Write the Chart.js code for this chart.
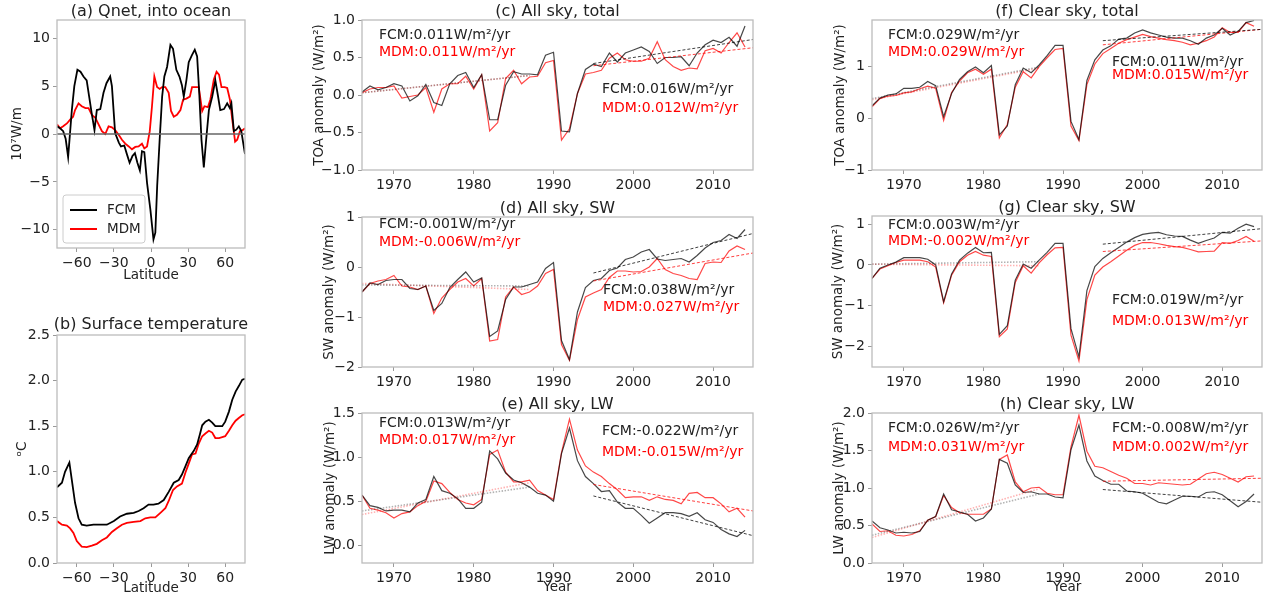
<!DOCTYPE html>
<html><head><meta charset="utf-8">
<script src="https://cdn.jsdelivr.net/npm/chart.js@4.4.0/dist/chart.umd.min.js"></script>
<style>
body{margin:0;background:#fff;width:1271px;height:600px;position:relative;overflow:hidden}
canvas{position:absolute}
</style></head><body>
<canvas id="pa" width="260" height="290" style="left:0;top:0"></canvas>
<canvas id="pb" width="260" height="305" style="left:0;top:295px"></canvas>
<canvas id="pc" width="470" height="195" style="left:295px;top:0"></canvas>
<canvas id="pd" width="470" height="195" style="left:295px;top:195px"></canvas>
<canvas id="pe" width="470" height="210" style="left:295px;top:390px"></canvas>
<canvas id="pf" width="471" height="195" style="left:800px;top:0"></canvas>
<canvas id="pg" width="471" height="195" style="left:800px;top:195px"></canvas>
<canvas id="ph" width="471" height="210" style="left:800px;top:390px"></canvas>
<script>
// ---------------- DATA ----------------
const years = [1966,1967,1968,1969,1970,1971,1972,1973,1974,1975,
  1976,1977,1978,1979,1980,1981,1982,1983,1984,1985,
  1986,1987,1988,1989,1990,1991,1992,1993,1994,1995,
  1996,1997,1998,1999,2000,2001,2002,2003,2004,2005,
  2006,2007,2008,2009,2010,2011,2012,2013,2014];
const yearTicks = [1970,1980,1990,2000,2010];
const latTicks = [-60,-30,0,30,60];
const latTickLabels = ['\u221260','\u221230','0','30','60'];
const earlyYears = [1966,1987];
const lateYears = [1995,2015];

// (a) Qnet into ocean
const aLatFCM = [-76,-73.5,-71,-69,-67,-64,-62,-59.5,-57,-54.6,-52,-50,-48,-45.7,-43.8,-41,-38.4,-36,-33,-31.6,-29,-26,-24.3,-21.6,-19.5,-17.3,-15,-13,-11,-9,-7.3,-5.4,-3.2,-0.5,2,3.5,5,7,9,10.8,13,15.7,17.8,20.5,23,25,26.5,28.6,30.5,33,35.4,37.3,39,40.8,42.7,44.6,46.8,49.5,52,54,56,59,61.6,63.8,65,67,69,71,73,76];
const aFCM = [0.8,0.6,0.3,-0.5,-2.4,2.5,5.0,6.7,6.5,6.0,5.6,3.9,2.2,0.4,2.5,2.6,4.3,5.3,6.0,5.0,0.1,-0.9,-1.3,-1.2,-2.1,-3.0,-2.3,-2.0,-3.0,-3.8,-1.8,-1.9,-5.1,-7.9,-11.0,-10.3,-5.4,-0.6,3.9,6.0,7.0,9.3,8.9,6.7,6.0,5.1,3.9,5.6,7.5,8.2,8.8,8.1,4.3,-0.6,-3.5,-0.6,2.5,3.9,5.6,4.1,2.5,2.6,3.2,2.7,3.2,0.3,0.45,0.8,0.3,-2.1];
const aLatMDM = [-76,-73.5,-71,-68,-65.4,-63,-61.4,-58.6,-56,-53,-50.5,-47.8,-45,-42.4,-39.7,-37,-34.3,-31.6,-29,-26,-23.5,-20.8,-18,-15.4,-12.7,-10,-7.3,-5.4,-3.2,-1,0.8,2.7,4.9,7,9,11.6,14.3,16.2,18.4,21,23.8,26,28.6,31.4,33.2,36,38.6,41.4,43.2,46,48,50.8,53,55,57,59.5,61.6,63.8,65.7,68,69.7,71.9,74,76];
const aMDM = [1.0,0.6,0.8,1.1,1.5,1.8,2.5,3.2,2.9,2.7,2.7,2.0,1.7,1.0,0.3,0.0,0.8,0.7,0.4,-0.1,-0.6,-1.0,-1.3,-1.6,-1.35,-1.3,-1.0,-1.5,-1.3,0.3,2.9,6.0,4.9,4.7,4.9,4.9,4.3,2.4,1.8,2.0,2.5,3.6,3.7,3.9,4.9,4.9,4.9,2.4,2.9,2.8,3.6,5.7,6.5,6.2,4.9,4.9,4.8,3.6,1.5,-0.8,-0.6,0.3,0.4,0.6];
const aTicks = [-10,-5,0,5,10];
const aTickLabels = ['\u221210','\u22125','0','5','10'];

// (b) Surface temperature
const bLatFCM = [-76,-72,-69.5,-66,-64,-61.4,-58.6,-56,-52,-46.5,-41,-35.7,-30,-25,-19.5,-14,-10,-6,-2,2,6,10.3,14.3,18.4,22.4,25,27.8,30.5,34.6,37.3,39.5,41.4,44,46.8,49.5,52,55,57.6,60,63,65.7,68.4,71,73.8,76];
const bFCM = [0.83,0.88,1.00,1.10,0.91,0.66,0.49,0.42,0.41,0.42,0.42,0.42,0.46,0.51,0.54,0.55,0.57,0.60,0.64,0.64,0.65,0.69,0.78,0.88,0.91,0.97,1.06,1.15,1.23,1.30,1.41,1.51,1.55,1.57,1.54,1.50,1.50,1.50,1.55,1.66,1.79,1.88,1.94,2.01,2.02];
const bLatMDM = [-76,-72,-68,-65.4,-62.7,-60,-56,-52,-47.8,-43.8,-39.7,-35.7,-31.6,-27.6,-23.5,-19.5,-14,-8.6,-4.6,-0.5,3.5,7.6,11.6,14.3,17.8,21,25,27.8,30.5,33.2,36,38.6,41.4,44,46.8,49.5,52,55,57.6,60,63,65.7,68.4,71,73.8,76];
const bMDM = [0.46,0.42,0.41,0.38,0.33,0.24,0.18,0.175,0.19,0.21,0.25,0.28,0.34,0.38,0.42,0.44,0.45,0.46,0.49,0.50,0.50,0.55,0.60,0.68,0.80,0.84,0.87,0.99,1.09,1.19,1.20,1.31,1.39,1.42,1.45,1.43,1.37,1.37,1.38,1.39,1.45,1.51,1.56,1.59,1.62,1.63];
const bTicks = [0,0.5,1,1.5,2,2.5];
const bTickLabels = ['0.0','0.5','1.0','1.5','2.0','2.5'];

// (c) All sky, total
const cFCM = [0.04,0.12,0.07,0.10,0.15,0.12,-0.08,-0.01,0.14,-0.10,
  -0.14,0.15,0.26,0.30,0.10,0.27,-0.33,-0.33,0.13,0.31,
  0.28,0.28,0.27,0.53,0.57,-0.48,-0.49,0.02,0.34,0.41,
  0.38,0.56,0.44,0.56,0.60,0.64,0.58,0.42,0.50,0.50,
  0.51,0.39,0.56,0.67,0.73,0.70,0.77,0.65,0.92];
const cMDM = [0.03,0.08,0.10,0.10,0.12,-0.04,-0.02,0.00,0.10,-0.23,
  0.08,0.15,0.15,0.25,0.08,0.27,-0.48,-0.37,0.22,0.33,
  0.15,0.24,0.25,0.43,0.46,-0.60,-0.45,0.02,0.28,0.30,
  0.33,0.49,0.56,0.47,0.45,0.45,0.49,0.71,0.47,0.38,
  0.33,0.36,0.35,0.59,0.62,0.56,0.70,0.83,0.64];
const cTrendEarlyFCM = [0.03,0.26], cTrendEarlyMDM = [0.03,0.26];
const cTrendLateFCM = [0.42,0.74], cTrendLateMDM = [0.39,0.63];
const cTicks = [-1,-0.5,0,0.5,1];
const cTickLabels = ['\u22121.0','\u22120.5','0.0','0.5','1.0'];

// (d) All sky, SW
const dFCM = [-0.50,-0.32,-0.35,-0.27,-0.25,-0.25,-0.43,-0.45,-0.38,-0.87,
  -0.73,-0.41,-0.25,-0.10,-0.30,-0.22,-1.39,-1.28,-0.65,-0.40,
  -0.40,-0.35,-0.30,-0.03,0.09,-1.47,-1.85,-0.90,-0.41,-0.27,
  -0.23,-0.07,-0.02,0.15,0.20,0.30,0.35,0.16,0.13,0.15,
  0.17,0.10,0.23,0.38,0.49,0.53,0.65,0.57,0.75];
const dMDM = [-0.50,-0.33,-0.28,-0.25,-0.17,-0.38,-0.40,-0.45,-0.38,-0.93,
  -0.62,-0.45,-0.30,-0.23,-0.38,-0.23,-1.48,-1.45,-0.60,-0.40,
  -0.55,-0.50,-0.38,-0.13,-0.05,-1.55,-1.87,-1.05,-0.60,-0.52,
  -0.45,-0.21,-0.08,-0.08,-0.10,-0.09,0.00,0.17,-0.05,-0.13,
  -0.17,-0.23,-0.25,0.07,0.10,0.09,0.32,0.42,0.35];
const dTrendEarlyFCM = [-0.36,-0.38], dTrendEarlyMDM = [-0.33,-0.45];
const dTrendLateFCM = [-0.12,0.67], dTrendLateMDM = [-0.28,0.28];
const dTicks = [-2,-1,0,1];
const dTickLabels = ['\u22122','\u22121','0','1'];

// (e) All sky, LW
const eFCM = [0.57,0.45,0.43,0.39,0.40,0.40,0.38,0.48,0.52,0.78,
  0.62,0.59,0.53,0.42,0.42,0.49,1.07,0.98,0.82,0.74,
  0.71,0.66,0.59,0.57,0.50,1.04,1.33,0.96,0.78,0.70,
  0.61,0.62,0.49,0.42,0.42,0.34,0.25,0.31,0.37,0.37,
  0.36,0.33,0.37,0.29,0.26,0.18,0.13,0.10,0.17];
const eMDM = [0.57,0.42,0.40,0.37,0.31,0.36,0.38,0.45,0.50,0.73,
  0.70,0.60,0.52,0.48,0.46,0.52,1.03,1.08,0.83,0.72,
  0.72,0.74,0.62,0.57,0.52,1.05,1.43,1.08,0.90,0.83,
  0.78,0.70,0.63,0.54,0.55,0.55,0.51,0.55,0.52,0.51,
  0.47,0.59,0.60,0.54,0.54,0.47,0.38,0.42,0.32];
const eTrendEarlyFCM = [0.39,0.66], eTrendEarlyMDM = [0.35,0.71];
const eTrendLateFCM = [0.56,0.11], eTrendLateMDM = [0.69,0.39];
const eTicks = [0,0.5,1,1.5];
const eTickLabels = ['0.0','0.5','1.0','1.5'];

// (f) Clear sky, total
const fFCM = [0.24,0.39,0.45,0.47,0.58,0.58,0.60,0.71,0.63,0.03,
  0.48,0.75,0.90,0.99,0.88,1.02,-0.32,-0.15,0.65,0.97,
  0.88,1.03,1.21,1.41,1.41,-0.06,-0.41,0.73,1.13,1.32,
  1.40,1.53,1.55,1.65,1.71,1.65,1.61,1.57,1.55,1.55,
  1.50,1.43,1.55,1.61,1.74,1.61,1.68,1.85,1.89];
const fMDM = [0.22,0.38,0.43,0.44,0.49,0.51,0.57,0.62,0.58,-0.04,
  0.50,0.72,0.88,0.95,0.85,0.95,-0.38,-0.12,0.60,0.90,
  0.78,1.00,1.17,1.33,1.35,-0.15,-0.43,0.65,1.05,1.25,
  1.35,1.45,1.52,1.57,1.62,1.58,1.55,1.52,1.50,1.47,
  1.42,1.45,1.50,1.57,1.75,1.66,1.66,1.85,1.78];
const fTrendEarlyFCM = [0.38,0.99], fTrendEarlyMDM = [0.36,0.97];
const fTrendLateFCM = [1.50,1.72], fTrendLateMDM = [1.42,1.72];
const fTicks = [-1,0,1];
const fTickLabels = ['\u22121','0','1'];

// (g) Clear sky, SW
const gFCM = [-0.33,-0.08,0.00,0.07,0.18,0.18,0.18,0.14,0.00,-0.90,
  -0.22,0.12,0.29,0.43,0.30,0.31,-1.70,-1.49,-0.37,0.02,
  -0.08,0.12,0.31,0.53,0.53,-1.56,-2.25,-0.63,-0.04,0.16,
  0.30,0.43,0.56,0.67,0.75,0.78,0.80,0.74,0.71,0.70,
  0.61,0.53,0.60,0.66,0.80,0.78,0.90,1.00,0.94];
const gMDM = [-0.33,-0.10,-0.02,0.06,0.12,0.12,0.12,0.08,-0.05,-0.93,
  -0.25,0.08,0.24,0.33,0.24,0.21,-1.76,-1.57,-0.43,-0.02,
  -0.20,0.05,0.25,0.42,0.43,-1.72,-2.35,-0.85,-0.25,-0.05,
  0.08,0.22,0.36,0.48,0.55,0.55,0.52,0.48,0.45,0.43,
  0.38,0.32,0.33,0.34,0.55,0.53,0.60,0.70,0.58];
const gTrendEarlyFCM = [0.02,0.08], gTrendEarlyMDM = [0.02,-0.02];
const gTrendLateFCM = [0.51,0.89], gTrendLateMDM = [0.33,0.59];
const gTicks = [-2,-1,0,1];
const gTickLabels = ['\u22122','\u22121','0','1'];

// (h) Clear sky, LW
const hFCM = [0.56,0.47,0.44,0.40,0.41,0.40,0.42,0.57,0.62,0.92,
  0.71,0.68,0.65,0.56,0.60,0.72,1.38,1.33,1.04,0.94,
  0.95,0.92,0.92,0.88,0.87,1.51,1.84,1.36,1.16,1.10,
  1.05,1.05,0.96,0.95,0.93,0.87,0.81,0.79,0.84,0.89,
  0.89,0.88,0.94,0.95,0.91,0.83,0.75,0.82,0.92];
const hMDM = [0.52,0.42,0.43,0.37,0.36,0.38,0.43,0.57,0.62,0.90,
  0.74,0.67,0.65,0.65,0.65,0.72,1.38,1.44,1.08,0.95,
  1.00,1.01,0.93,0.91,0.91,1.55,1.97,1.49,1.29,1.27,
  1.22,1.17,1.13,1.06,1.06,1.04,1.07,1.06,1.05,1.04,
  1.05,1.12,1.19,1.21,1.18,1.13,1.08,1.15,1.16];
const hTrendEarlyFCM = [0.37,0.92], hTrendEarlyMDM = [0.34,0.99];
const hTrendLateFCM = [0.98,0.81], hTrendLateMDM = [1.09,1.13];
const hTicks = [0,0.5,1,1.5,2];
const hTickLabels = ['0.0','0.5','1.0','1.5','2.0'];

// ---------------- RENDERING ----------------
const FONT = 'DejaVu Sans';
const TXT = '#222';
Chart.defaults.font.family = FONT;
Chart.defaults.color = TXT;

const deco = {
  id: 'deco',
  afterDraw(chart, args, o) {
    const ctx = chart.ctx, ca = chart.chartArea;
    ctx.save();
    ctx.strokeStyle = '#bcbcbc'; ctx.lineWidth = 1.3;
    ctx.strokeRect(ca.left, ca.top, ca.right - ca.left, ca.bottom - ca.top);
    ctx.fillStyle = TXT;
    ctx.font = '16px "' + FONT + '"';
    ctx.textAlign = 'center'; ctx.textBaseline = 'middle';
    ctx.fillText(o.title, (ca.left + ca.right) / 2, o.titleY);
    ctx.font = '14px "' + FONT + '"'; ctx.textAlign = 'left';
    (o.notes || []).forEach(n => { ctx.fillStyle = n.color; ctx.fillText(n.text, ca.left + n.dx, ca.top + n.dy); });
    if (o.legend) {
      const L = o.legend;
      const x0 = ca.left + L.dx, y0 = ca.top + L.dy;
      ctx.beginPath();
      if (ctx.roundRect) ctx.roundRect(x0, y0, L.w, L.h, 3); else ctx.rect(x0, y0, L.w, L.h);
      ctx.fillStyle = 'rgba(255,255,255,0.85)'; ctx.fill();
      ctx.strokeStyle = '#cccccc'; ctx.lineWidth = 1; ctx.stroke();
      ctx.font = '13.5px "' + FONT + '"';
      chart.data.datasets.filter(d => d.inLegend).forEach((d, i) => {
        const yy = y0 + 15 + i * 19;
        ctx.strokeStyle = d.borderColor; ctx.lineWidth = 2;
        ctx.beginPath(); ctx.moveTo(x0 + 7, yy); ctx.lineTo(x0 + 34, yy); ctx.stroke();
        ctx.fillStyle = TXT; ctx.fillText(d.label, x0 + 44, yy);
      });
    }
    ctx.restore();
  }
};

function xyPairs(xs, ys) { return xs.map((x, i) => ({x: x, y: ys[i]})); }

function makeChart(id, g) {
  const tickGrid = {display: true, drawOnChartArea: false, drawTicks: true, tickLength: 4, tickColor: '#9a9a9a', lineWidth: 1};
  new Chart(document.getElementById(id), {
    type: 'line',
    data: {datasets: g.datasets},
    options: {
      responsive: false, animation: false, devicePixelRatio: 1,
      layout: {padding: {top: g.padTop, right: g.padRight, left: 0, bottom: 0}},
      elements: {point: {radius: 0}, line: {tension: 0}},
      plugins: {legend: {display: false}, tooltip: {enabled: false}, deco: g.deco},
      scales: {
        x: {
          type: 'linear', position: 'bottom', min: g.xMin, max: g.xMax,
          afterBuildTicks: s => { s.ticks = g.xTicks.map(v => ({value: v})); },
          afterFit: s => { s.height = g.xH; },
          ticks: {font: {size: 14}, color: TXT, padding: 3, maxRotation: 0, autoSkip: false,
                  callback: (v, i) => g.xLabels[i]},
          grid: tickGrid, border: {display: false},
          title: {display: !!g.xTitle, text: g.xTitle || '', font: {size: 13.5}, color: TXT,
                  padding: {top: 0, bottom: g.xTitlePad || 0}}
        },
        y: {
          type: 'linear', position: 'left', min: g.yMin, max: g.yMax,
          afterBuildTicks: s => { s.ticks = g.yTicks.map(v => ({value: v})); },
          afterFit: s => { s.width = g.yW; },
          ticks: {font: {size: 14}, color: TXT, padding: 3, autoSkip: false,
                  callback: (v, i) => g.yLabels[i]},
          grid: tickGrid, border: {display: false},
          title: {display: true, text: g.yTitle, font: {size: 13.5}, color: TXT,
                  padding: {top: g.yTitlePad, bottom: 0}}
        }
      }
    },
    plugins: [deco]
  });
}

const BLK = 'rgba(0,0,0,0.72)', RED = 'rgba(255,0,0,0.72)';
function tsDatasets(fcm, mdm, eF, eM, lF, lM) {
  return [
    {label: 'FCM early trend', data: xyPairs(earlyYears, eF), borderColor: 'rgba(0,0,0,0.3)', borderWidth: 1.6, borderDash: [1.5, 1.5]},
    {label: 'MDM early trend', data: xyPairs(earlyYears, eM), borderColor: 'rgba(255,0,0,0.3)', borderWidth: 1.6, borderDash: [1.5, 1.5]},
    {label: 'FCM late trend', data: xyPairs(lateYears, lF), borderColor: 'rgba(0,0,0,0.75)', borderWidth: 1, borderDash: [3, 2]},
    {label: 'MDM late trend', data: xyPairs(lateYears, lM), borderColor: 'rgba(255,0,0,0.75)', borderWidth: 1, borderDash: [3, 2]},
    {label: 'FCM', data: xyPairs(years, fcm), borderColor: BLK, borderWidth: 1.2},
    {label: 'MDM', data: xyPairs(years, mdm), borderColor: RED, borderWidth: 1.2}
  ];
}
function notes(d1x, d1y, d2y, t1, t2, d3x, d3y, d4y, t3, t4) {
  return [
    {text: 'FCM:' + t1 + 'W/m\u00b2/yr', color: '#222', dx: d1x, dy: d1y},
    {text: 'MDM:' + t2 + 'W/m\u00b2/yr', color: '#ff0000', dx: d1x, dy: d2y},
    {text: 'FCM:' + t3 + 'W/m\u00b2/yr', color: '#222', dx: d3x, dy: d3y},
    {text: 'MDM:' + t4 + 'W/m\u00b2/yr', color: '#ff0000', dx: d3x, dy: d4y}
  ];
}
const yearCommon = {xMin: 1966, xMax: 2015, xTicks: yearTicks, xLabels: yearTicks.map(String)};
const latCommon = {xMin: -76, xMax: 76, xTicks: latTicks, xLabels: latTickLabels};

makeChart('pa', Object.assign({}, latCommon, {
  yMin: -11.9, yMax: 11.9, yTicks: aTicks, yLabels: aTickLabels,
  yW: 57, xH: 42, padTop: 20, padRight: 15, yTitle: '10\u2077W/m', yTitlePad: 9,
  xTitle: 'Latitude', xTitlePad: 6,
  datasets: [
    {label: 'zero', data: xyPairs([-76, 76], [0, 0]), borderColor: '#666', borderWidth: 1.5},
    {label: 'FCM', inLegend: true, data: xyPairs(aLatFCM, aFCM), borderColor: '#000', borderWidth: 1.8},
    {label: 'MDM', inLegend: true, data: xyPairs(aLatMDM, aMDM), borderColor: '#ff0000', borderWidth: 1.8}
  ],
  deco: {title: '(a) Qnet, into ocean', titleY: 12, legend: {dx: 6, dy: 175, w: 82, h: 48}}
}));

makeChart('pb', Object.assign({}, latCommon, {
  yMin: 0, yMax: 2.5, yTicks: bTicks, yLabels: bTickLabels,
  yW: 57, xH: 37, padTop: 40, padRight: 15, yTitle: '\u1d52C', yTitlePad: 14,
  xTitle: 'Latitude', xTitlePad: 3,
  datasets: [
    {label: 'FCM', data: xyPairs(bLatFCM, bFCM), borderColor: '#000', borderWidth: 1.8},
    {label: 'MDM', data: xyPairs(bLatMDM, bMDM), borderColor: '#ff0000', borderWidth: 1.8}
  ],
  deco: {title: '(b) Surface temperature', titleY: 30}
}));

makeChart('pc', Object.assign({}, yearCommon, {
  yMin: -1, yMax: 1, yTicks: cTicks, yLabels: cTickLabels,
  yW: 67, xH: 25, padTop: 20, padRight: 12, yTitle: 'TOA anomaly (W/m\u00b2)', yTitlePad: 16,
  datasets: tsDatasets(cFCM, cMDM, cTrendEarlyFCM, cTrendEarlyMDM, cTrendLateFCM, cTrendLateMDM),
  deco: {title: '(c) All sky, total', titleY: 12,
         notes: notes(17, 15, 32, '0.011', '0.011', 240, 69, 88, '0.016', '0.012')}
}));

makeChart('pd', Object.assign({}, yearCommon, {
  yMin: -2, yMax: 1, yTicks: dTicks, yLabels: dTickLabels,
  yW: 67, xH: 23, padTop: 22, padRight: 12, yTitle: 'SW anomaly (W/m\u00b2)', yTitlePad: 26,
  datasets: tsDatasets(dFCM, dMDM, dTrendEarlyFCM, dTrendEarlyMDM, dTrendLateFCM, dTrendLateMDM),
  deco: {title: '(d) All sky, SW', titleY: 14,
         notes: notes(17, 7, 25, '-0.001', '-0.006', 241, 73, 90, '0.038', '0.027')}
}));

makeChart('pe', Object.assign({}, yearCommon, {
  yMin: -0.2, yMax: 1.5, yTicks: eTicks, yLabels: eTickLabels,
  yW: 67, xH: 37, padTop: 23, padRight: 12, yTitle: 'LW anomaly (W/m\u00b2)', yTitlePad: 27,
  xTitle: 'Year', xTitlePad: 4,
  datasets: tsDatasets(eFCM, eMDM, eTrendEarlyFCM, eTrendEarlyMDM, eTrendLateFCM, eTrendLateMDM),
  deco: {title: '(e) All sky, LW', titleY: 15,
         notes: notes(17, 10, 27, '0.013', '0.017', 240, 18, 39, '-0.022', '-0.015')}
}));

makeChart('pf', Object.assign({}, yearCommon, {
  yMin: -1, yMax: 1.9, yTicks: fTicks, yLabels: fTickLabels,
  yW: 72, xH: 25, padTop: 20, padRight: 9, yTitle: 'TOA anomaly (W/m\u00b2)', yTitlePad: 32,
  datasets: tsDatasets(fFCM, fMDM, fTrendEarlyFCM, fTrendEarlyMDM, fTrendLateFCM, fTrendLateMDM),
  deco: {title: '(f) Clear sky, total', titleY: 12,
         notes: notes(16, 15, 32, '0.029', '0.029', 240, 42, 55, '0.011', '0.015')}
}));

makeChart('pg', Object.assign({}, yearCommon, {
  yMin: -2.5, yMax: 1.2, yTicks: gTicks, yLabels: gTickLabels,
  yW: 72, xH: 23, padTop: 21, padRight: 9, yTitle: 'SW anomaly (W/m\u00b2)', yTitlePad: 30,
  datasets: tsDatasets(gFCM, gMDM, gTrendEarlyFCM, gTrendEarlyMDM, gTrendLateFCM, gTrendLateMDM),
  deco: {title: '(g) Clear sky, SW', titleY: 13,
         notes: notes(16, 9, 25, '0.003', '-0.002', 240, 84, 105, '0.019', '0.013')}
}));

makeChart('ph', Object.assign({}, yearCommon, {
  yMin: 0, yMax: 2, yTicks: hTicks, yLabels: hTickLabels,
  yW: 72, xH: 37, padTop: 23, padRight: 9, yTitle: 'LW anomaly (W/m\u00b2)', yTitlePad: 31,
  xTitle: 'Year', xTitlePad: 4,
  datasets: tsDatasets(hFCM, hMDM, hTrendEarlyFCM, hTrendEarlyMDM, hTrendLateFCM, hTrendLateMDM),
  deco: {title: '(h) Clear sky, LW', titleY: 15,
         notes: notes(16, 15, 34, '0.026', '0.031', 240, 15, 34, '-0.008', '0.002')}
}));
</script>
</body></html>
